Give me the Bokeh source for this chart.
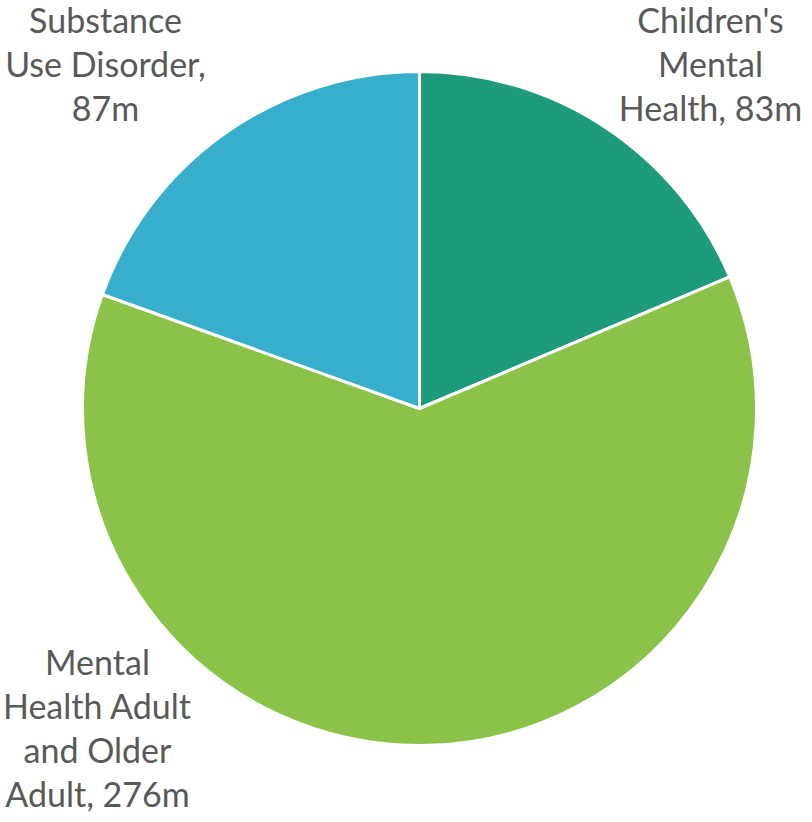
import numpy as np
from bokeh.plotting import figure
from bokeh.models import Range1d
from bokeh.core.properties import value
from bokeh.embed import file_html
from bokeh.resources import INLINE

categories = ["Children's Mental Health", "Mental Health Adult and Older Adult", "Substance Use Disorder"]
amounts = [83, 276, 87]
colors = ["#1E9B7A", "#8BC34A", "#36AECC"]
label_lines = [
    ["Children's", "Mental", "Health, 83m"],
    ["Mental", "Health Adult", "and Older", "Adult, 276m"],
    ["Substance", "Use Disorder,", "87m"],
]

# layout (pixel coordinates from the figure's top-left)
W, H = 804, 814
cx, cy_pix, R = 419, 408, 337
label_pos = [(710, 19), (97, 661), (105, 19)]  # center x, first line anchor
line_step = 44

def py(pix_y):
    return H - pix_y

p = figure(width=W, height=H, output_backend="svg", toolbar_location=None,
           x_range=Range1d(0, W), y_range=Range1d(0, H), min_border=0)
p.axis.visible = False
p.grid.visible = False
p.outline_line_color = None
p.background_fill_color = "white"

total = sum(amounts)
cum = np.concatenate([[0], np.cumsum(amounts)])
starts = np.pi / 2 - 2 * np.pi * cum[:-1] / total
ends = np.pi / 2 - 2 * np.pi * cum[1:] / total

p.wedge(x=[cx] * 3, y=[py(cy_pix)] * 3, radius=R,
        start_angle=list(starts), end_angle=list(ends), direction="clock",
        fill_color=colors, line_color="white", line_width=3)

for lines, (lx, ly) in zip(label_lines, label_pos):
    xs = [lx] * len(lines)
    ys = [py(ly + i * line_step) for i in range(len(lines))]
    p.text(x=xs, y=ys, text=lines, text_align="center", text_baseline="alphabetic",
           text_font=value("Lato"), text_font_size="34px", text_color="#595959")

open("out.html", "w").write(file_html(p, INLINE))
